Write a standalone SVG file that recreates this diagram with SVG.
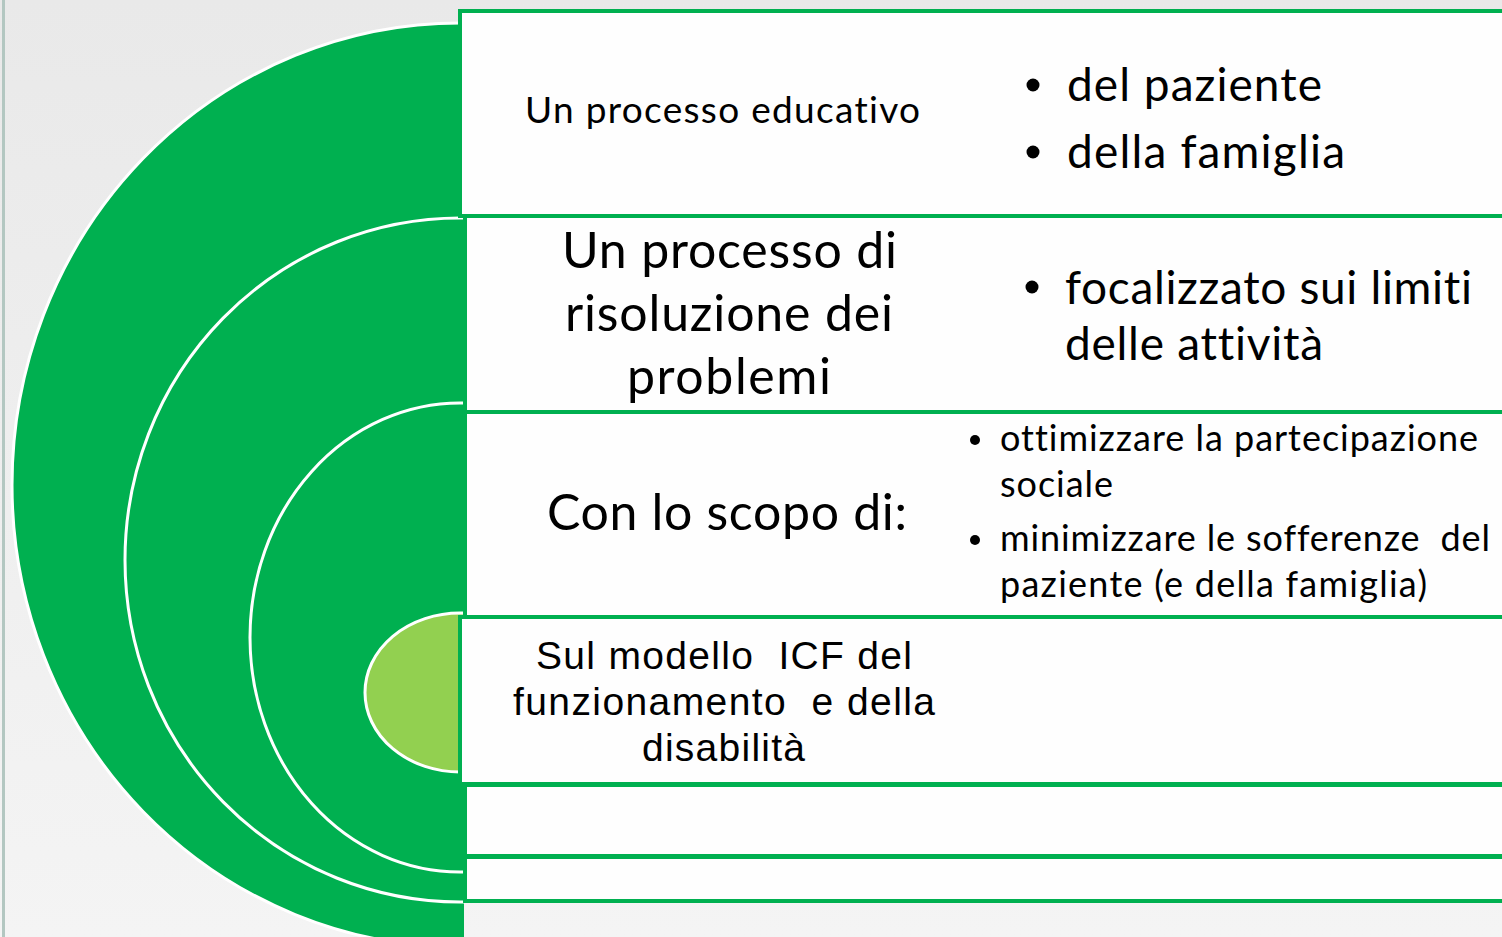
<svg xmlns="http://www.w3.org/2000/svg" width="1502" height="937" viewBox="0 0 1502 937">
  <defs>
    <linearGradient id="bg" x1="0" y1="0" x2="0" y2="1">
      <stop offset="0" stop-color="#e9e9e9"/>
      <stop offset="1" stop-color="#f4f4f4"/>
    </linearGradient>
    <clipPath id="leftHalf">
      <rect x="0" y="0" width="464" height="937"/>
    </clipPath>
  </defs>
  <style>
    .arc { fill: #00b050; stroke: #ffffff; stroke-width: 3; }
    .core { fill: #92d050; stroke: #ffffff; stroke-width: 3; }
    .box { fill: #fefefe; stroke: #00b050; stroke-width: 4; }
    .cal { font-family: Lato, "Open Sans", "Liberation Sans", sans-serif; fill: #000000; font-variant-ligatures: none; font-feature-settings: "liga" 0, "clig" 0; }
    .ari { font-family: "Liberation Sans", Arial, sans-serif; fill: #000000; }
    .dot { fill: #000000; }
  </style>

  <rect x="0" y="0" width="1502" height="937" fill="url(#bg)"/>
  <rect x="2" y="0" width="3" height="937" fill="#b3c7c1"/>

  <g id="rings" clip-path="url(#leftHalf)">
    <ellipse class="arc" cx="460" cy="485" rx="448" ry="462"/>
    <ellipse class="arc" cx="460" cy="560" rx="335" ry="342"/>
    <ellipse class="arc" cx="460" cy="637.5" rx="210" ry="234.5"/>
    <ellipse class="core" cx="460" cy="692.5" rx="95" ry="79.5"/>
  </g>

  <g id="box1">
    <rect class="box" x="460" y="11" width="1060" height="205"/>
    <text class="cal" x="525" y="123" font-size="37" textLength="395" lengthAdjust="spacing">Un processo educativo</text>
    <circle class="dot" cx="1033" cy="85" r="6.5"/>
    <text class="cal" x="1067" y="101" font-size="46" textLength="255" lengthAdjust="spacing">del paziente</text>
    <circle class="dot" cx="1033" cy="152" r="6.5"/>
    <text class="cal" x="1067" y="168" font-size="46" textLength="278" lengthAdjust="spacing">della famiglia</text>
  </g>

  <g id="box2">
    <rect class="box" x="465" y="216" width="1060" height="196"/>
    <text class="cal" x="562" y="268" font-size="50" textLength="335" lengthAdjust="spacing">Un processo di</text>
    <text class="cal" x="565" y="331" font-size="50" textLength="328" lengthAdjust="spacing">risoluzione dei</text>
    <text class="cal" x="627" y="394" font-size="50" textLength="204" lengthAdjust="spacing">problemi</text>
    <circle class="dot" cx="1032" cy="287" r="6.5"/>
    <text class="cal" x="1065" y="304" font-size="46" textLength="407" lengthAdjust="spacing">focalizzato sui limiti</text>
    <text class="cal" x="1065" y="360" font-size="46" textLength="258" lengthAdjust="spacing">delle attività</text>
  </g>

  <g id="box3">
    <rect class="box" x="465" y="412" width="1060" height="205"/>
    <text class="cal" x="547" y="530" font-size="50" textLength="360" lengthAdjust="spacing">Con lo scopo di:</text>
    <circle class="dot" cx="975" cy="440" r="5"/>
    <text class="cal" x="1000" y="451" font-size="36" textLength="478" lengthAdjust="spacing">ottimizzare la partecipazione</text>
    <text class="cal" x="1000" y="497" font-size="36" textLength="113" lengthAdjust="spacing">sociale</text>
    <circle class="dot" cx="975" cy="540" r="5"/>
    <text class="cal" x="1000" y="551" font-size="36" textLength="490" lengthAdjust="spacing" xml:space="preserve">minimizzare le sofferenze  del</text>
    <text class="cal" x="1000" y="597" font-size="36" textLength="427" lengthAdjust="spacing">paziente (e della famiglia)</text>
  </g>

  <g id="box4">
    <rect class="box" x="460" y="617" width="1060" height="167"/>
    <text class="ari" x="536" y="669" font-size="39" textLength="376" lengthAdjust="spacing" xml:space="preserve">Sul modello  ICF del</text>
    <text class="ari" x="513" y="715" font-size="39" textLength="422" lengthAdjust="spacing" xml:space="preserve">funzionamento  e della</text>
    <text class="ari" x="642" y="761" font-size="39" textLength="163" lengthAdjust="spacing">disabilità</text>
  </g>

  <g id="box5">
    <rect class="box" x="465" y="785" width="1060" height="71"/>
  </g>

  <g id="box6">
    <rect class="box" x="465" y="857" width="1060" height="44"/>
  </g>

  <g id="connectors"></g>
</svg>
